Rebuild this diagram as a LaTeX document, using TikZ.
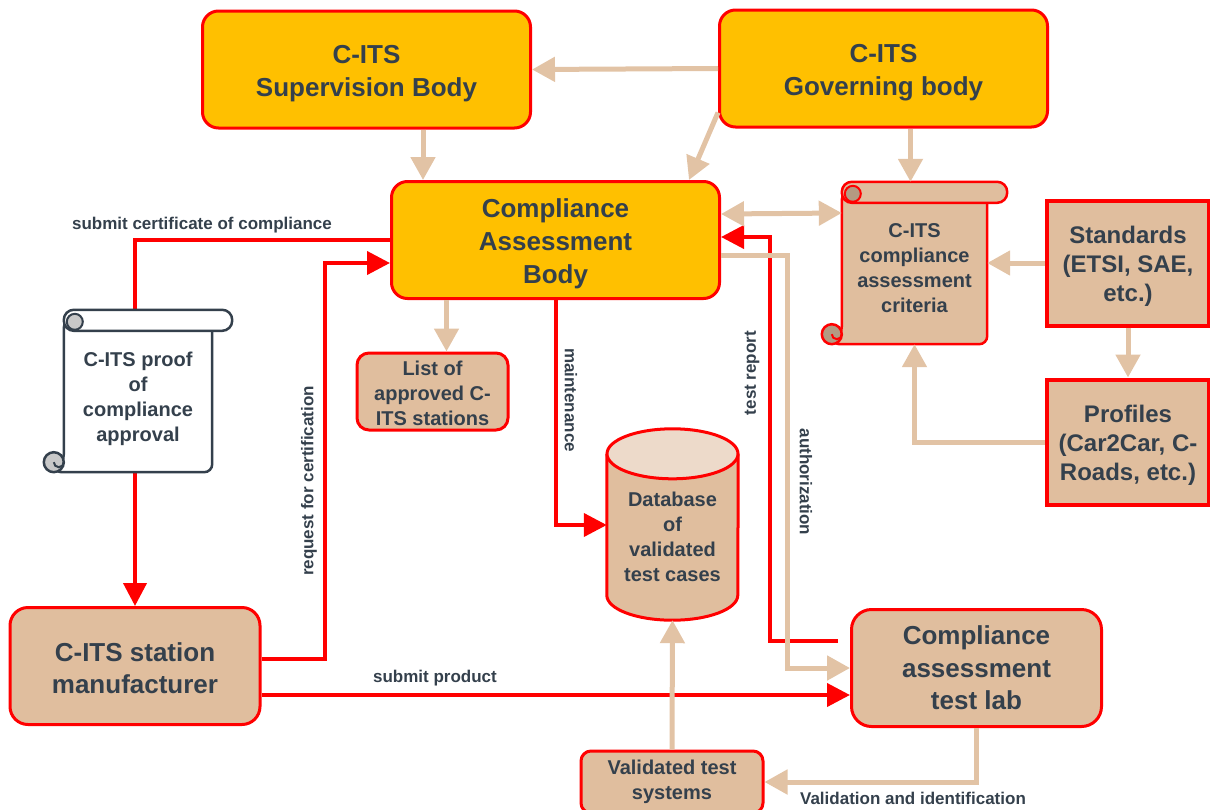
\documentclass[tikz,border=0pt]{standalone}
\usepackage{fontspec}
\setmainfont{Liberation Sans}
\usetikzlibrary{arrows.meta,calc,positioning}

\definecolor{corange}{HTML}{FFC000}
\definecolor{cred}{HTML}{FF0000}
\definecolor{ctan}{HTML}{E0BE9E}
\definecolor{ctanline}{HTML}{E2C3A5}
\definecolor{ctanlight}{HTML}{EDDACA}
\definecolor{ctandark}{HTML}{B49A82}
\definecolor{cgrey}{HTML}{C8C8C8}
\definecolor{cink}{HTML}{34404C}

\pgfdeclarelayer{bg}
\pgfdeclarelayer{shapes}
\pgfsetlayers{bg,shapes,main}

\tikzset{
  basic/.style  = {draw=cred, line width=3pt, text=cink, align=center, inner sep=0pt},
  body/.style   = {basic, rounded corners=16pt, fill=corange, minimum width=328pt,
                   minimum height=117pt, font=\fontsize{26}{33}\selectfont\bfseries},
  actor/.style  = {basic, rounded corners=18pt, fill=ctan, minimum width=250pt,
                   minimum height=117pt, font=\fontsize{26}{32.5}\selectfont\bfseries},
  source/.style = {basic, line width=4pt, fill=ctan, minimum width=162pt,
                   minimum height=125pt, font=\fontsize{24}{29}\selectfont\bfseries},
  item/.style   = {basic, rounded corners=12pt, fill=ctan,
                   font=\fontsize{20}{25}\selectfont\bfseries},
  paper/.style  = {align=center, text=cink, inner sep=0pt,
                   font=\fontsize{20}{25}\selectfont\bfseries},
  flow/.style   = {text=cink, inner sep=0pt, font=\fontsize{17}{20}\selectfont\bfseries},
  redarrow/.style = {draw=cred, line width=4pt, -{Triangle[length=23pt,width=23pt]}},
  tanarrow/.style = {draw=ctanline, line width=5pt, -{Triangle[length=23pt,width=24pt]}}
}

% taller first line, pushes a text block down a little
\newcommand{\pad}[1]{\rule{0pt}{#1}}

% scroll drawn round a node: node, fill, border, curl fill
\newcommand{\scrollpaper}[4]{%
  \draw[#3, line width=2.5pt, fill=#2, rounded corners=8pt]
    ($(#1.north west)+(20,0)$) -- ($(#1.north east)+(-20,0)$) -- ($(#1.south east)+(-20,0)$)
    -- ($(#1.south west)+(10,0)$) -- ($(#1.south west)+(20,-10)$) -- cycle;
  \draw[#3, line width=2.5pt, fill=#2, rounded corners=10pt]
    ($(#1.north west)+(20,-10)$) rectangle ($(#1.north east)+(0,11)$);
  \draw[#3, line width=2pt, fill=#4] ($(#1.north west)+(31,2)$) circle (8);
  \draw[#3, line width=2.5pt, fill=#4] ($(#1.south west)+(10,-10)$) circle (10);
  \draw[#3, line width=2pt] ($(#1.south west)+(20,-10)$) arc[start angle=0, end angle=180, radius=5];
}

\begin{document}
\begin{tikzpicture}[x=1pt, y=-1pt]
\useasboundingbox (0,0) rectangle (1210,809);

% bodies on top
\node[body] (sup) at (366.5,69.5) {\pad{27pt}C-ITS\\Supervision Body};
\node[body] (gov) at (883.5,68.5) {\pad{27pt}C-ITS\\Governing body};
\node[body] (cab) at (555.5,240) {\pad{26pt}Compliance\\Assessment\\Body};

% criteria and their sources
\node[paper, minimum width=185pt, minimum height=152pt] (crit) at (914.5,268)
  {C-ITS\\compliance\\assessment\\criteria};
\node[source] (std) at (1128,263) {\pad{24pt}Standards\\(ETSI, SAE,\\etc.)};
\node[source] (prof) at (1128,442) {\pad{24pt}Profiles\\(Car2Car, C-\\Roads, etc.)};

% outputs of the assessment body
\node[item, minimum width=151pt, minimum height=77pt] (list) at (432.5,391.5)
  {\pad{18.5pt}List of\\approved C-\\ITS stations};
\node[paper, minimum width=188pt, minimum height=152pt] (proof) at (138,396)
  {\pad{21pt}C-ITS proof\\of\\compliance\\approval};
\node[paper, minimum width=131pt, minimum height=166pt] (db) at (672.5,537)
  {Database\\of\\validated\\test cases};

% actors at the bottom
\node[actor] (man) at (135,666) {\pad{23pt}C-ITS station\\manufacturer};
\node[actor, rounded corners=20pt] (lab) at (976.5,668) {Compliance\\assessment\\test lab};
\node[item, rounded corners=10pt, minimum width=182pt, minimum height=62pt] (vts) at (672,782)
  {Validated test\\systems};

% scrolls and cylinder behind the texts
\begin{pgfonlayer}{shapes}
\scrollpaper{proof}{white}{cink}{cgrey}
\scrollpaper{crit}{ctan}{cred}{ctandark}
\fill[ctan] (db.north west) rectangle ($(db.south east)+(0,-25)$);
\fill[ctan] ($(db.south)+(0,-25)$) ellipse [x radius=65.5, y radius=25];
\draw[cred, line width=3pt] (db.north west) -- ($(db.south west)+(0,-25)$)
  arc[start angle=180, end angle=0, x radius=65.5, y radius=25] -- (db.north east);
\draw[cred, line width=3pt, fill=ctanlight] (db.north) ellipse [x radius=65.5, y radius=25];
\end{pgfonlayer}

% red flows
\begin{pgfonlayer}{bg}
\draw[redarrow] (cab.west) -| (man.north);
\end{pgfonlayer}
\draw[redarrow] ([yshift=7pt]man.east) -- ++(63,0) |- ([yshift=-23pt]cab.west);
\draw[redarrow] ([yshift=-29pt]man.east) -- ([yshift=-27pt]lab.west);
\draw[redarrow] (cab.south) |- ([yshift=12pt]db.west);
\draw[redarrow] ([shift={(-12pt,27pt)}]lab.west) -- ++(-68,0) |- ([yshift=3pt]cab.east);

% tan flows
\coordinate (sc) at ([xshift=33pt]cab.north west);
\coordinate (gc) at ([shift={(-4pt,10pt)}]crit.north);
\coordinate (lc) at ([xshift=14pt]list.north);
\draw[tanarrow] (gov.west) -- (sup.east);
\draw[tanarrow] (sc |- sup.south) -- (sc);
\draw[tanarrow] ([yshift=-44pt]gov.west) -- ([xshift=-32pt]cab.north east);
\draw[tanarrow] (gc |- gov.south) -- (gc);
\draw[tanarrow, {Triangle[length=23pt,width=24pt]}-{Triangle[length=23pt,width=24pt]}]
  ([yshift=26pt]cab.east) -- ([shift={(20pt,55pt)}]crit.west);
\draw[tanarrow] (std.west) -- ([shift={(-20pt,5pt)}]crit.east);
\draw[tanarrow] (std.south) -- (prof.north);
\draw[tanarrow] (prof.west) -| (crit.south);
\draw[tanarrow] (lc |- cab.south) -- (lc);
\draw[tanarrow] ([yshift=-15pt]cab.east) -- ++(66,0) |- (lab.west);
\draw[tanarrow] (vts.north) -- (db.south);
\draw[tanarrow] (lab.south) |- (vts.east);

% flow labels
\node[flow] (lcert) at (202,225) {submit certificate of compliance};
\node[flow, rotate=90] (lreq) at (309,481) {request for certification};
\node[flow] (lprod) at (435,678) {submit product};
\node[flow, rotate=-90] (lmaint) at (571,400) {maintenance};
\node[flow, rotate=90] (lrep) at (752,373) {test report};
\node[flow, rotate=-90] (lauth) at (806,482) {authorization};
\node[flow] (lval) at (913,798) {Validation and identification};
\end{tikzpicture}
\end{document}
